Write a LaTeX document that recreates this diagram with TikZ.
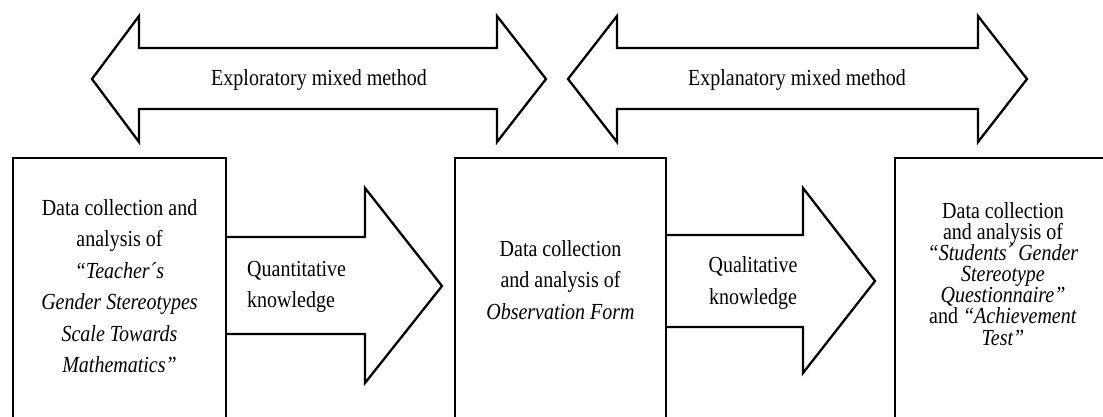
\documentclass[tikz,border=0pt]{standalone}
\usepackage{fontspec}
\setmainfont{Liberation Serif}
\usepackage{tikz}
\usetikzlibrary{positioning}
\tikzset{box/.style = {line width=2.8pt}}
\tikzset{blockarrow/.style = {line width=2.3pt, line join=miter, fill=white}}
\tikzset{lbl/.style = {font=\fontsize{20}{27.4}\selectfont, align=center,
                       inner sep=0pt, yscale=1.15, transform shape}}
\tikzset{tightlbl/.style = {lbl, font=\fontsize{20}{18.3}\selectfont}}

\begin{document}
\begin{tikzpicture}[x=1pt, y=-1pt]
      \useasboundingbox (0, 0) rectangle (1103, 417);
      \fill [white] (0, 0) rectangle (1103, 417);
      \clip (0, 0) rectangle (1103, 417);

      \draw [blockarrow] (92, 79) -- (139, 16) -- (139, 48) -- (497, 48) -- (497, 16) -- (546, 79) -- (497, 142) -- (497, 109) -- (139, 109) -- (139, 142) -- cycle;
      \draw [blockarrow] (568, 79) -- (617, 16) -- (617, 48) -- (978, 48) -- (978, 16) -- (1027, 79) -- (978, 142) -- (978, 109) -- (617, 109) -- (617, 142) -- cycle;

      \node [lbl] (explo) at (319, 80) {Exploratory mixed method};
      \node [lbl] (expla) at (797, 80) {Explanatory mixed method};

      \draw [blockarrow] (226, 237) -- (365, 237) -- (365, 188) -- (442, 286) -- (365, 383) -- (365, 334) -- (226, 334);
      \draw [blockarrow] (666, 235) -- (803, 235) -- (803, 188) -- (875, 281) -- (803, 373) -- (803, 327) -- (666, 327);

      \draw [box] (13, 158) rectangle (226, 440);
      \draw [box] (455, 158) rectangle (666, 440);
      \draw [box] (895, 158) rectangle (1115, 440);

      \node [lbl] (collect1) at (119.5, 286) {Data collection and\\analysis of\\\textit{``Teacher´s}\\\textit{Gender Stereotypes}\\\textit{Scale Towards}\\\textit{Mathematics''}};
      \node [lbl] (collect2) at (560.5, 280) {Data collection\\and analysis of\\\textit{Observation Form}};
      \node [tightlbl] (collect3) at (1003, 274) {Data collection\\and analysis of\\\textit{``Students´ Gender}\\\textit{Stereotype}\\\textit{Questionnaire''}\\and \textit{``Achievement}\\\textit{Test''}};

      \node [lbl, align=left, anchor=west] (quant) at (247, 287) {Quantitative\\knowledge};
      \node [lbl] (qual) at (753, 283) {Qualitative\\knowledge};
\end{tikzpicture}
\end{document}
